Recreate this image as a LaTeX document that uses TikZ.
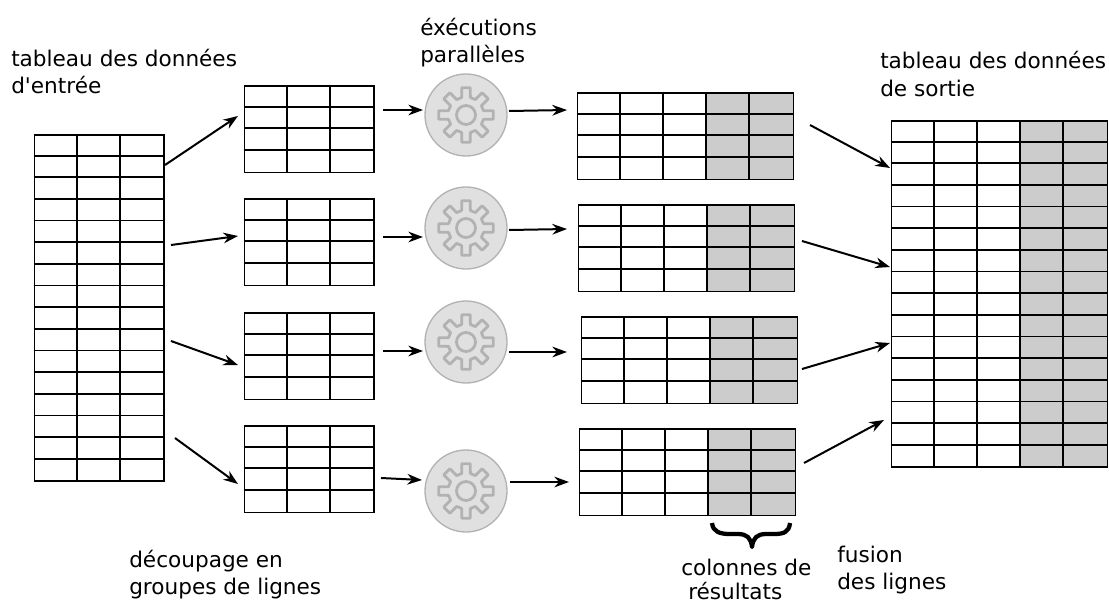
\documentclass[tikz,border=0pt]{standalone}
\usepackage{fontspec}
\newfontfamily\labelfont{DejaVu Sans}
\usetikzlibrary{arrows.meta}
\tikzset{
  x=0.75pt,y=-0.75pt,
  grid line/.style={draw=black,line width=1.3pt},
  table box/.style={draw=black,line width=1.3pt,inner sep=0pt,anchor=north west},
  flow/.style={draw=black,line width=1.5pt,-{Stealth[length=11pt,width=8pt]},shorten >=0pt},
  label text/.style={anchor=base west,inner sep=0pt,font=\labelfont\fontsize{16.2pt}{19pt}\selectfont},
  disc/.style={circle,draw=black!30,fill=black!12,line width=1pt,minimum size=61.5pt,inner sep=0pt},
  cog/.style={draw=black!30,line width=2.1pt,line join=round},
}
% name, x, y, white columns, grey columns, rows
\newcommand{\tbl}[6]{%
  \pgfmathsetmacro{\tw}{43.2*(#4+#5)}%
  \pgfmathsetmacro{\th}{21.65*#6}%
  \pgfmathsetmacro{\gx}{#2+43.2*#4}%
  \ifnum#5>0 \fill[black!20] (\gx,#3) rectangle (#2+\tw,#3+\th);\fi
  \node[table box,minimum width=\tw*0.75pt,minimum height=\th*0.75pt] (#1) at (#2,#3) {};
  \pgfmathtruncatemacro{\nc}{#4+#5-1}%
  \pgfmathtruncatemacro{\nr}{#6-1}%
  \foreach \c in {1,...,\nc} {\draw[grid line] (#2+\c*43.2,#3) -- (#2+\c*43.2,#3+\th);}
  \foreach \r in {1,...,\nr} {\draw[grid line] (#2,#3+\r*21.65) -- (#2+\tw,#3+\r*21.65);}
}
% name, x, y
\newcommand{\gear}[3]{%
  \node[disc] (#1) at (#2,#3) {};
  \draw[cog] (#2,#3) circle[radius=9.5];
  \draw[cog,shift={(#2,#3)}] (-14:18)
    \foreach \a in {0,45,...,315} {
      -- (\a-14:18) -- (\a-9:27.5) -- (\a+9:27.5) -- (\a+14:18) -- (\a+31:18)
    } -- cycle;
}
% from, to
\newcommand{\flowarrow}[4]{\coordinate (s) at (#1,#2); \coordinate (e) at (#3,#4); \draw[flow] (s) -- (e);}
\begin{document}
\begin{tikzpicture}
\useasboundingbox (0,0) rectangle (1109,603);
\tbl{input}{33.5}{134}{3}{0}{16}
\tbl{g1}{243.5}{85}{3}{0}{4}
\tbl{g2}{243.5}{198}{3}{0}{4}
\tbl{g3}{243.5}{312}{3}{0}{4}
\tbl{g4}{243.5}{425}{3}{0}{4}
\gear{c1}{466}{115}
\gear{c2}{466}{228}
\gear{c3}{466}{342}
\gear{c4}{466}{491}
\tbl{r1}{576.5}{92}{3}{2}{4}
\tbl{r2}{577.5}{204}{3}{2}{4}
\tbl{r3}{580.5}{316}{3}{2}{4}
\tbl{r4}{578.5}{428}{3}{2}{4}
\tbl{output}{890.5}{120}{3}{2}{16}
\flowarrow{165}{165}{238}{116}
\flowarrow{171}{245}{238}{236}
\flowarrow{171}{341}{238}{365}
\flowarrow{175}{438}{238}{484}
\flowarrow{383}{110}{423}{110}
\flowarrow{383}{237}{423}{237}
\flowarrow{383}{351}{423}{351}
\flowarrow{381}{478}{422}{480}
\flowarrow{509}{111}{567}{110}
\flowarrow{509}{230}{567}{229}
\flowarrow{509}{352}{567}{352}
\flowarrow{510}{482}{569}{482}
\flowarrow{810}{125}{890}{168}
\flowarrow{802}{241}{890}{267}
\flowarrow{802}{369}{890}{343}
\flowarrow{804}{463}{884}{420}
\draw[black,line width=3.2pt,line join=round]
  (712,523) .. controls (713,532) and (720,534) .. (730,534) -- (738,534)
  .. controls (747,534) and (751,538) .. (752,547)
  .. controls (753,538) and (757,534) .. (766,534) -- (774,534)
  .. controls (784,534) and (789,532) .. (790,523);
\node[label text] (l1) at (11,66) {tableau des données};
\node[label text] (l2) at (11,93) {d'entrée};
\node[label text] (l3) at (420,35) {éxécutions};
\node[label text] (l4) at (420,62) {parallèles};
\node[label text] (l5) at (880,68) {tableau des données};
\node[label text] (l6) at (880,96) {de sortie};
\node[label text] (l7) at (129,567) {découpage en};
\node[label text] (l8) at (129,594) {groupes de lignes};
\node[label text] (l9) at (681,575) {colonnes de};
\node[label text] (l10) at (688,599) {résultats};
\node[label text] (l11) at (837,562) {fusion};
\node[label text] (l12) at (837,589) {des lignes};
\end{tikzpicture}
\end{document}
